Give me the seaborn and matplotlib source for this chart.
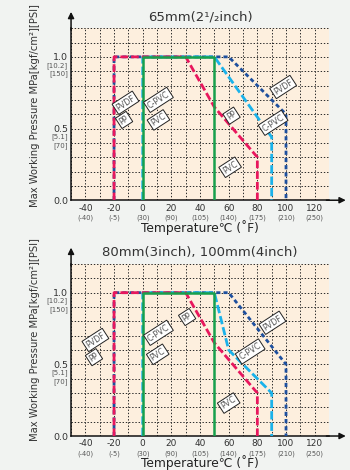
import numpy as np
import pandas as pd
import matplotlib
matplotlib.use("Agg")
import matplotlib.pyplot as plt
import seaborn as sns

# ---------------- data ----------------
x_ticks = [-40, -20, 0, 20, 40, 60, 80, 100, 120]
x_tick_labels = ["-40", "-20", "0", "20", "40", "60", "80", "100", "120"]
f_tick_labels = ["(-40)", "(-5)", "(30)", "(90)", "(105)", "(140)", "(175)", "(210)", "(250)"]
y_ticks = [0.0, 0.5, 1.0]
y_tick_labels = ["0.0", "0.5", "1.0"]
y_sub1_labels = ["", "[5.1]", "[10.2]"]
y_sub2_labels = ["", "[70]", "[150]"]

titles = ["65mm(2¹/₂inch)", "80mm(3inch), 100mm(4inch)"]
y_label = "Max Working Pressure MPa[kgf/cm²][PSI]"
x_label = "Temperature℃ (˚F)"

# chart 1: 65mm
pvc1_t = [0, 0, 50, 50]
pvc1_p = [0.0, 1.0, 1.0, 0.0]
pp1_t = [-20, -20, 30, 50, 80, 80]
pp1_p = [0.0, 1.0, 1.0, 0.65, 0.3, 0.0]
cpvc1_t = [0, 0, 50, 90, 90]
cpvc1_p = [0.0, 1.0, 1.0, 0.44, 0.0]
pvdf1_t = [-20, -20, 60, 100, 100]
pvdf1_p = [0.0, 1.0, 1.0, 0.6, 0.0]

# chart 2: 80mm, 100mm
pvc2_t = [0, 0, 50, 50]
pvc2_p = [0.0, 1.0, 1.0, 0.0]
pp2_t = [-20, -20, 30, 50, 80, 80]
pp2_p = [0.0, 1.0, 1.0, 0.65, 0.3, 0.0]
cpvc2_t = [0, 0, 50, 60, 90, 90]
cpvc2_p = [0.0, 1.0, 1.0, 0.6, 0.3, 0.0]
pvdf2_t = [-20, -20, 60, 100, 100]
pvdf2_p = [0.0, 1.0, 1.0, 0.5, 0.0]

label_names = ["PVDF", "PP", "C-PVC", "PVC", "PVDF", "PP", "C-PVC", "PVC"]
labels1_x = [-12, -13, 11, 11, 98, 62, 91, 61]
labels1_y = [0.68, 0.56, 0.70, 0.56, 0.79, 0.59, 0.54, 0.23]
label_names2 = ["PVDF", "PP", "C-PVC", "PVC", "PP", "PVDF", "C-PVC", "PVC"]
labels2_x = [-33, -34, 11, 10.5, 31, 90.5, 75, 60]
labels2_y = [0.67, 0.55, 0.72, 0.57, 0.83, 0.79, 0.59, 0.23]

# ---------------- style ----------------
sns.set_style("white")
plt.rcParams["font.family"] = ["DejaVu Sans"]
plt.rcParams["lines.scale_dashes"] = False

C_PVC = "#17a04c"
C_PP = "#e8175d"
C_CPVC = "#1ab2ea"
C_PVDF = "#1d4f9e"
BG = "#f1f3f1"
AX_BG = "#fdefde"

fig = plt.figure(figsize=(3.5, 4.7), dpi=100, facecolor=BG)
ax1 = fig.add_axes([0.203, 0.574, 0.737, 0.366])
ax2 = fig.add_axes([0.203, 0.0723, 0.737, 0.366])


def draw(ax, t, p, color, ls, lw, z):
    df = pd.DataFrame({"temp": t, "pres": p})
    sns.lineplot(data=df, x="temp", y="pres", sort=False, estimator=None,
                 color=color, linestyle=ls, linewidth=lw, ax=ax, zorder=z)


def setup(ax, title, ylab_y):
    ax.set_facecolor(AX_BG)
    ax.set_xlim(-50, 130)
    ax.set_ylim(0, 1.2)
    ax.set_xticks(np.arange(-50, 131, 10), minor=True)
    ax.set_yticks(np.arange(0, 1.21, 0.1), minor=True)
    ax.set_xticks(x_ticks)
    ax.set_xticklabels(x_tick_labels, fontsize=6.5, color="#333333")
    ax.set_yticks(y_ticks)
    ax.set_yticklabels(y_tick_labels, fontsize=6.8, color="#333333")
    ax.tick_params(which="both", length=0)
    ax.tick_params(axis="x", pad=2.5)
    ax.tick_params(axis="y", pad=2.2)
    ax.grid(which="both", color="#2a2a2a", linestyle=(0, (1.0, 1.3)), linewidth=0.7)
    ax.set_axisbelow(True)
    for s in ["top", "right"]:
        ax.spines[s].set_visible(False)
    for s in ["left", "bottom"]:
        ax.spines[s].set_color("#111111")
        ax.spines[s].set_linewidth(1.1)
    ax.set_title(title, fontsize=9.5, color="#333333", pad=5.5)
    ax.set_xlabel(x_label, fontsize=8.8, color="#222222", labelpad=5)
    ax.set_ylabel(y_label, fontsize=7.2, color="#333333")
    ax.yaxis.set_label_coords(-0.12, ylab_y)
    # sub tick labels (Fahrenheit)
    for t, s in zip(x_ticks, f_tick_labels):
        ax.annotate(s, xy=(t, 0), xycoords=("data", "axes fraction"),
                    xytext=(0, -12.5), textcoords="offset points",
                    ha="center", va="center", fontsize=4.8, color="#555555",
                    annotation_clip=False)
    # sub tick labels (kgf/cm2, PSI)
    for v, s1, s2 in zip(y_ticks, y_sub1_labels, y_sub2_labels):
        if s1:
            ax.annotate(s1, xy=(0, v), xycoords=("axes fraction", "data"),
                        xytext=(-2.2, -6.0), textcoords="offset points",
                        ha="right", va="center", fontsize=5.0, color="#555555",
                        annotation_clip=False)
            ax.annotate(s2, xy=(0, v), xycoords=("axes fraction", "data"),
                        xytext=(-2.2, -12.2), textcoords="offset points",
                        ha="right", va="center", fontsize=5.0, color="#555555",
                        annotation_clip=False)
    # axis arrows
    ax.annotate("", xy=(0, 1.095), xytext=(0, 0.99), xycoords="axes fraction",
                arrowprops=dict(arrowstyle="-|>", color="#111111", lw=1.1,
                                mutation_scale=9, shrinkA=0, shrinkB=0),
                annotation_clip=False)
    ax.annotate("", xy=(1.065, 0), xytext=(0.99, 0), xycoords="axes fraction",
                arrowprops=dict(arrowstyle="-|>", color="#111111", lw=1.1,
                                mutation_scale=9, shrinkA=0, shrinkB=0),
                annotation_clip=False)


def labels(ax, names, xs, ys):
    for n, x, y in zip(names, xs, ys):
        ax.text(x, y, n, rotation=33, ha="center", va="center", fontsize=5.8,
                color="#555555", zorder=6, rotation_mode="anchor",
                bbox=dict(boxstyle="square,pad=0.2", fc="white", ec="#222222", lw=0.7))


setup(ax1, titles[0], 0.55)
draw(ax1, pvdf1_t, pvdf1_p, C_PVDF, (0, (3.0, 2.2)), 2.0, 3)
draw(ax1, cpvc1_t, cpvc1_p, C_CPVC, (0, (6.0, 2.2)), 2.0, 4)
draw(ax1, pp1_t, pp1_p, C_PP, (0, (5.5, 2.2)), 2.0, 5)
draw(ax1, pvc1_t, pvc1_p, C_PVC, "-", 1.8, 5.5)
labels(ax1, label_names, labels1_x, labels1_y)

setup(ax2, titles[1], 0.56)
draw(ax2, pvdf2_t, pvdf2_p, C_PVDF, (0, (3.0, 2.2)), 2.0, 3)
draw(ax2, cpvc2_t, cpvc2_p, C_CPVC, (0, (6.0, 2.2)), 2.0, 4)
draw(ax2, pp2_t, pp2_p, C_PP, (0, (5.5, 2.2)), 2.0, 5)
draw(ax2, pvc2_t, pvc2_p, C_PVC, "-", 1.8, 5.5)
labels(ax2, label_names2, labels2_x, labels2_y)

for ax in (ax1, ax2):
    ax.set_xlim(-50, 130)
    ax.set_ylim(0, 1.2)

fig.savefig("out.png", dpi=100, facecolor=BG)
